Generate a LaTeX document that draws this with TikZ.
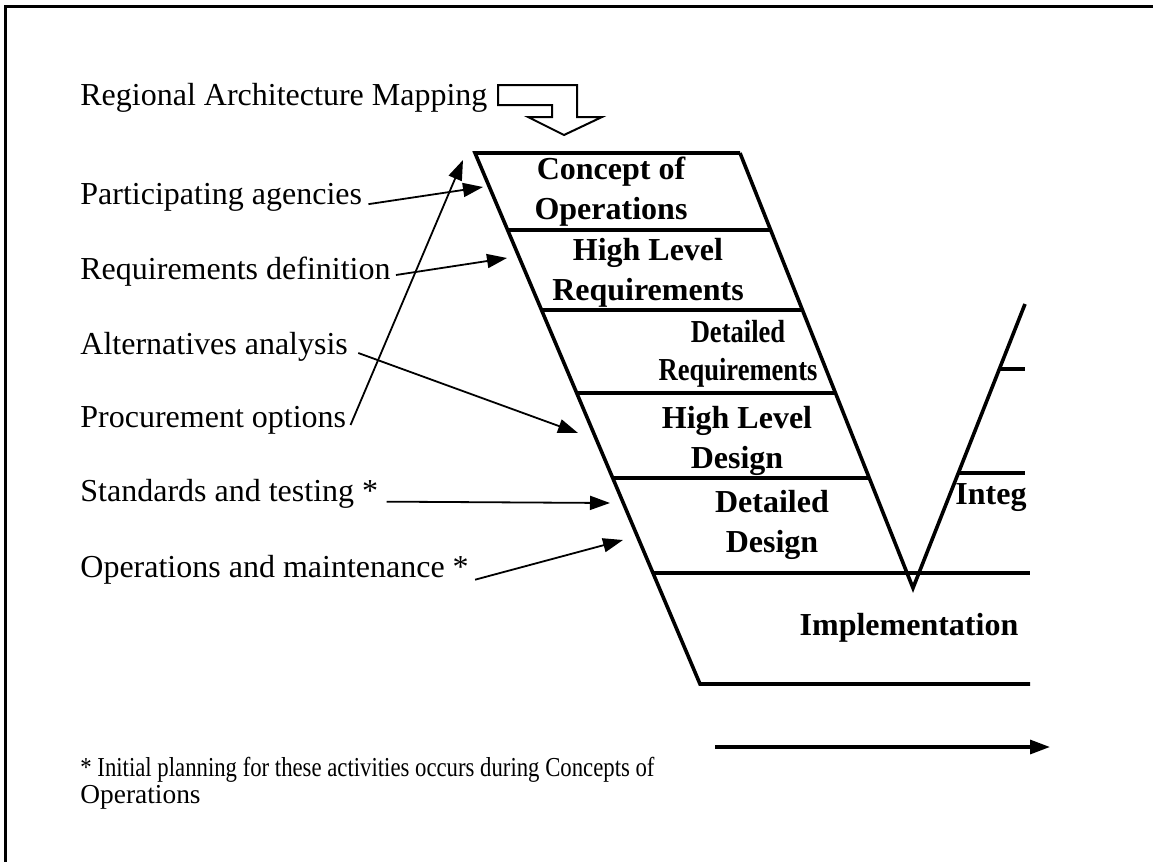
\documentclass[tikz,border=0pt]{standalone}
\usepackage{fontspec}
\usepackage{graphicx}
\setmainfont{Liberation Serif}
\usetikzlibrary{arrows.meta, positioning, calc}

\newcommand{\narrow}[1]{\scalebox{0.83}[1]{#1}}

\begin{document}
\begin{tikzpicture}[x=0.5pt, y=-0.5pt,
      lbl/.style={anchor=west, inner sep=0pt, font=\fontsize{16}{18}\selectfont},
      phase/.style={align=center, inner sep=0pt, font=\fontsize{16}{20}\selectfont\bfseries},
      vline/.style={line width=1.8pt},
      ptr/.style={line width=0.9pt, -{Triangle[length=10pt,width=7pt]}},
      >=Stealth]
    \useasboundingbox (0,0) rectangle (1153,862);
    % frame, cut off at right and bottom
    \draw[line width=1.5pt] (1153,6) -- (5,6) -- (5,862);

    % left arm, V and right arm
    \coordinate (LT) at (475,153);
    \coordinate (LB) at (700,684);
    \coordinate (RT) at (740,153);
    \coordinate (VA) at (913,588);
    \coordinate (RR) at (1025,304);
    \draw[vline] (RT) -- (LT) -- (LB) -- (1030,684);
    \draw[vline] (RT) -- (VA) -- (RR);
    \foreach \y/\l/\r in {230/507.7/770.6, 310/541.6/802.4,
                          393/576.9/835.4, 478/613/869.3} {
      \draw[vline] (\l,\y) -- (\r,\y);
    }
    \draw[vline] (653.3,573) -- (1030,573);
    \draw[vline] (999.4,369) -- (1025,369);
    \draw[vline] (958,473) -- (1025,473);

    % phases
    \node[phase] (conops) at (611,192) {Concept of\\Operations};
    \node[phase] (hlreq) at (648,273) {High Level\\Requirements};
    \node[phase, font=\fontsize{16}{19}\selectfont\bfseries] (dreq) at (738,354)
      {\narrow{Detailed}\\\narrow{Requirements}};
    \node[phase] (hldes) at (737,441) {High Level\\Design};
    \node[phase] (ddes) at (772,525) {Detailed\\Design};
    \node[phase] (impl) at (909,628) {Implementation};
    \node[phase, anchor=west] (integ) at (955,498) {Integ};

    % block arrow from the mapping
    \node[lbl] (ram) at (80,98) {Regional Architecture Mapping};
    \draw[line width=1pt, line join=miter]
      (498,85) -- (577,85) -- (577,117) -- (602,117) -- (564,135)
      -- (528,117) -- (552,117) -- (552,105) -- (498,105) -- cycle;

    % inputs
    \node[lbl] (pa) at (80,197) {Participating agencies};
    \node[lbl] (rd) at (80,272) {Requirements definition};
    \node[lbl] (aa) at (80,347) {Alternatives analysis};
    \node[lbl] (po) at (80,420) {Procurement options};
    \node[lbl] (st) at (80,494) {Standards and testing *};
    \node[lbl] (om) at (80,570) {Operations and maintenance *};

    \coordinate (tpa) at (483,187);
    \coordinate (trd) at (507,258);
    \coordinate (taa) at (578,433);
    \coordinate (tpo) at (463,160);
    \coordinate (tst) at (610,503);
    \coordinate (tom) at (623,540);
    \draw[ptr] ($(pa.base east)+(6,0)$) -- (tpa);
    \draw[ptr] ($(rd.east)+(5,3)$) -- (trd);
    \draw[ptr] ($(aa.east)+(10,6)$) -- (taa);
    \draw[ptr] ($(po.east)+(4,5)$) -- (tpo);
    \draw[ptr] ($(st.base east)+(8,0)$) -- (tst);
    \draw[ptr] ($(om.base east)+(6,2)$) -- (tom);

    % time axis
    \coordinate (ts) at (715,747);
    \coordinate (te) at (1050,747);
    \draw[line width=1.6pt, -{Triangle[length=10pt,width=7pt]}] (ts) -- (te);

    \node[anchor=west, inner sep=0pt, align=left,
          font=\fontsize{13.7}{13.5}\selectfont] (note) at (80,783)
      {\narrow{* Initial planning for these activities occurs during Concepts of}\\Operations};
\end{tikzpicture}
\end{document}
